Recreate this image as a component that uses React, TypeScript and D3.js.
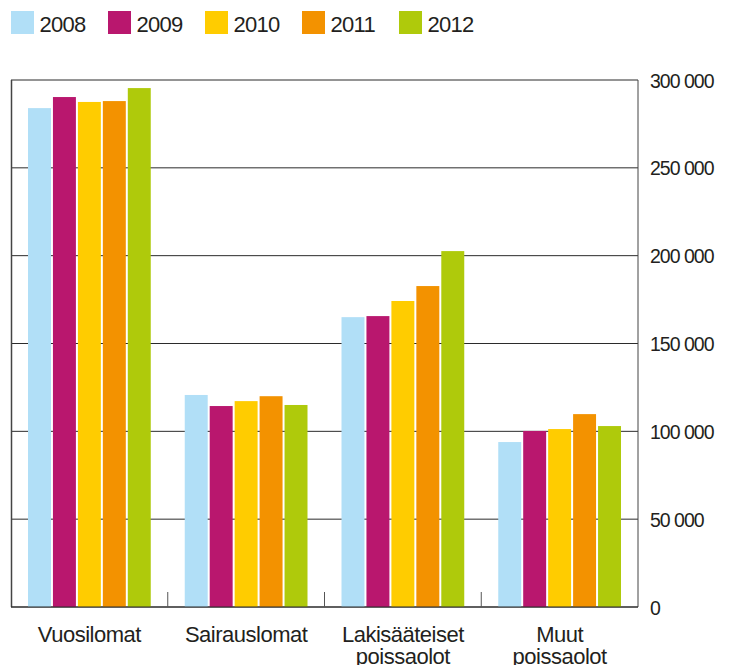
import * as d3 from 'd3';
import React from 'react';

const categories = [['Vuosilomat'], ['Sairauslomat'], ['Lakisääteiset', 'poissaolot'], ['Muut', 'poissaolot']];
const years = ['2008', '2009', '2010', '2011', '2012'];
const colors = ['#b1dff7', '#b9176e', '#ffcc00', '#f39200', '#afca0b'];
const values2008 = [284000, 120700, 165000, 93900];
const values2009 = [290300, 114400, 165600, 100200];
const values2010 = [287500, 117200, 174200, 101300];
const values2011 = [288000, 120000, 182700, 109800];
const values2012 = [295400, 115000, 202600, 103000];
const series = [values2008, values2009, values2010, values2011, values2012];
const yTicks = [0, 50000, 100000, 150000, 200000, 250000, 300000];

const width = 731;
const height = 665;
const left = 11;
const right = 638;
const top = 80;
const bottom = 607;
const font = '"Liberation Sans", Arial, sans-serif';
const ink = '#231f20';

const App = () => {
    const x0 = d3
        .scaleBand<number>()
        .domain(categories.map((_, i) => i))
        .range([left, right]);
    const bw = x0.bandwidth();
    const x1 = d3
        .scaleBand<string>()
        .domain(years)
        .range([17, bw - 17])
        .paddingInner(0.08);
    const y = d3.scaleLinear().domain([0, 300000]).range([bottom, top]);
    const fmt = (v: number) => d3.format(',')(v).replace(/,/g, ' ');

    return (
        <svg width={width} height={height} style={{ display: 'block', position: 'absolute', left: 0, top: 0 }}>
            <rect width={width} height={height} fill="#fff" />
            {/* legend */}
            {years.map((yr, i) => (
                <g key={yr} transform={`translate(${11 + i * 97},11)`}>
                    <rect width={23} height={23} fill={colors[i]} />
                    <text x={28.5} y={21} fontFamily={font} fontSize={22} fill={ink} letterSpacing={-0.7}>
                        {yr}
                    </text>
                </g>
            ))}
            {/* grid */}
            {yTicks.map((t) => (
                <g key={t}>
                    <line x1={left} x2={right} y1={y(t)} y2={y(t)} stroke="#2b2b2b" strokeWidth={1} />
                    <text x={650} y={y(t) + 7.5} fontFamily={font} fontSize={19.5} fill={ink} letterSpacing={-1}>
                        {fmt(t)}
                    </text>
                </g>
            ))}
            <line x1={left + 0.5} x2={left + 0.5} y1={top} y2={bottom} stroke="#444" strokeWidth={1.5} />
            <line x1={right} x2={right} y1={top} y2={bottom} stroke="#444" strokeWidth={1} />
            {/* bars */}
            {series.map((vals, si) =>
                vals.map((v, ci) => (
                    <rect
                        key={`${si}-${ci}`}
                        x={(x0(ci) ?? 0) + (x1(years[si]) ?? 0)}
                        y={y(v)}
                        width={x1.bandwidth()}
                        height={y(0) - y(v)}
                        fill={colors[si]}
                    />
                )),
            )}
            <line x1={left} x2={right} y1={bottom} y2={bottom} stroke="#2b2b2b" strokeWidth={1.2} />
            {/* category separators */}
            {categories.slice(1).map((_, i) => (
                <line
                    key={i}
                    x1={x0(i + 1)}
                    x2={x0(i + 1)}
                    y1={bottom - 15}
                    y2={bottom}
                    stroke="#555"
                    strokeWidth={1}
                />
            ))}
            {/* category labels */}
            {categories.map((lines, ci) => (
                <text
                    key={ci}
                    x={(x0(ci) ?? 0) + bw / 2}
                    y={642}
                    textAnchor="middle"
                    fontFamily={font}
                    fontSize={22}
                    fill={ink}
                    letterSpacing={-0.5}
                >
                    {lines.map((l, li) => (
                        <tspan key={li} x={(x0(ci) ?? 0) + bw / 2} dy={li === 0 ? 0 : 22}>
                            {l}
                        </tspan>
                    ))}
                </text>
            ))}
        </svg>
    );
};

export default App;
